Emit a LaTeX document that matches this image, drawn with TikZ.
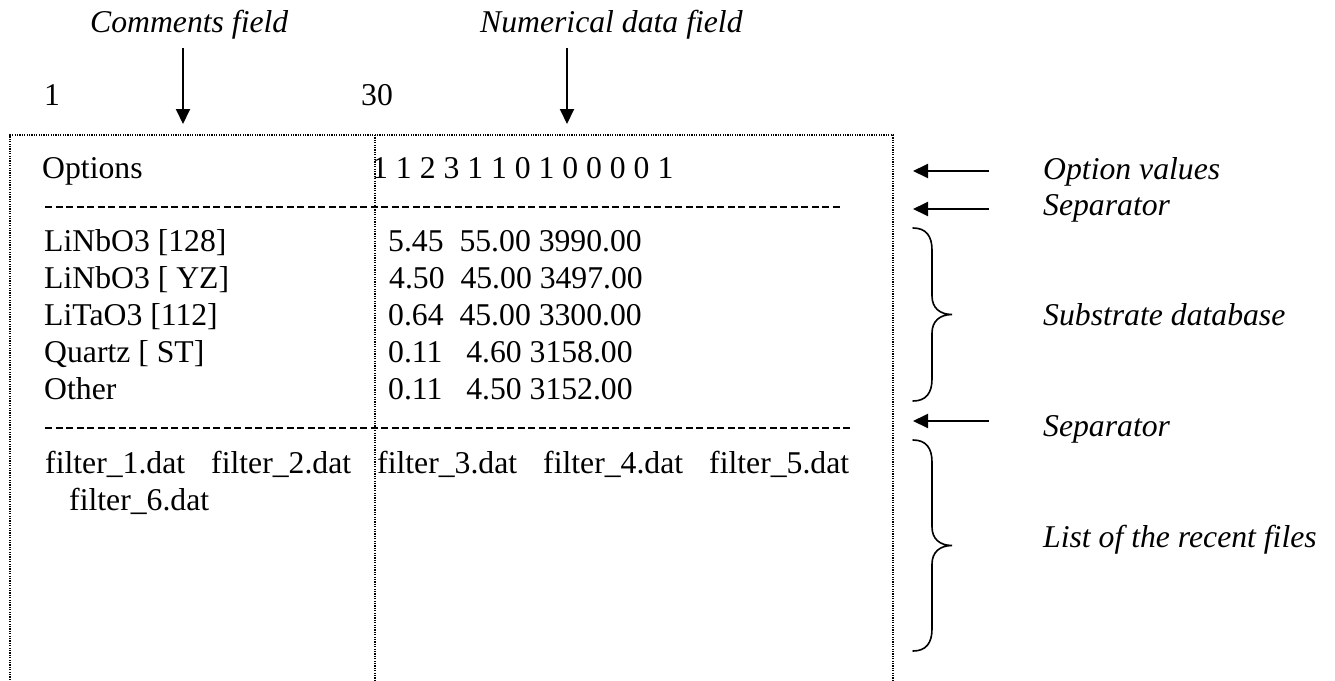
\documentclass[tikz,border=0pt]{standalone}
\usepackage{fontspec}
\setmainfont{Liberation Serif}
\usetikzlibrary{arrows.meta}
\begin{document}
\begin{tikzpicture}[x=1pt,y=-1pt,
  txt/.style={inner sep=0pt, anchor=base west, font=\fontsize{31.7}{38}\selectfont},
  lbl/.style={inner sep=0pt, anchor=base west, font=\fontsize{31.7}{38}\selectfont\itshape},
  frame/.style={line width=1.2pt, dash pattern=on 1.2pt off 1.2pt},
  sepline/.style={line width=1.6pt, dash pattern=on 7pt off 3.5pt},
  pointer/.style={line width=2pt, -{Triangle[length=15pt,width=14pt]}},
  bracket/.style={line width=1.6pt, line cap=round}]
\useasboundingbox (0,0) rectangle (1335,680);

% file frame and column divider
\draw[frame] (10,680) -- (10,135) -- (893,135) -- (893,680);
\draw[frame] (375,135) -- (375,680);

% field headers and column numbers
\node[lbl] (cf) at (90,32) {Comments field};
\node[lbl] (nf) at (480,32) {Numerical data field};
\node[txt] (c1) at (44,105) {1};
\node[txt] (c30) at (361,105) {30};
\coordinate (cfa) at (183,48);
\coordinate (cfb) at (183,124);
\coordinate (nfa) at (567,48);
\coordinate (nfb) at (567,124);
\draw[pointer] (cfa) -- (cfb);
\draw[pointer] (nfa) -- (nfb);

% file contents
\node[txt] (opt) at (42,178) {Options};
\node[txt] (optv) at (372,178) {1 1 2 3 1 1 0 1 0 0 0 0 1};
\coordinate (s1a) at (45,207);
\coordinate (s1b) at (843,207);
\draw[sepline] (s1a) -- (s1b);

\node[txt] (m1) at (44,251.8) {LiNbO3 [128]};
\node[txt] (m2) at (44,288.7) {LiNbO3 [ YZ]};
\node[txt] (m3) at (44,325.6) {LiTaO3 [112]};
\node[txt] (m4) at (44,362.5) {Quartz [ ST]};
\node[txt] (m5) at (44,399.4) {Other};
\node[txt] (v1) at (388,251.8) {5.45~~55.00 3990.00};
\node[txt] (v2) at (389,288.7) {4.50~~45.00 3497.00};
\node[txt] (v3) at (388,325.6) {0.64~~45.00 3300.00};
\node[txt] (v4) at (388,362.5) {0.11~~~4.60 3158.00};
\node[txt] (v5) at (388,399.4) {0.11~~~4.50 3152.00};

\coordinate (s2a) at (45,428);
\coordinate (s2b) at (853,428);
\draw[sepline] (s2a) -- (s2b);

\node[txt] (f1) at (45,473.2) {filter\_1.dat};
\node[txt] (f2) at (211,473.2) {filter\_2.dat};
\node[txt] (f3) at (377,473.2) {filter\_3.dat};
\node[txt] (f4) at (543,473.2) {filter\_4.dat};
\node[txt] (f5) at (709,473.2) {filter\_5.dat};
\node[txt] (f6) at (69,510.1) {filter\_6.dat};

% annotations on the right
\node[lbl] (lov) at (1043,179) {Option values};
\node[lbl] (ls1) at (1043,215) {Separator};
\node[lbl] (lsd) at (1043,325.6) {Substrate database};
\node[lbl] (ls2) at (1043,436.3) {Separator};
\node[lbl] (lrf) at (1043,547) {List of the recent files};

\coordinate (p1a) at (989,171);
\coordinate (p1b) at (913,171);
\coordinate (p2a) at (989,209);
\coordinate (p2b) at (913,209);
\coordinate (p3a) at (989,421);
\coordinate (p3b) at (913,421);
\draw[pointer] (p1a) -- (p1b);
\draw[pointer] (p2a) -- (p2b);
\draw[pointer] (p3a) -- (p3b);

% braces
\draw[bracket] (913,228) .. controls (926,228) and (932,236) .. (932,250)
  -- (932,296) .. controls (932,308) and (940,314.5) .. (952,314.5)
  .. controls (940,314.5) and (932,321) .. (932,333)
  -- (932,379) .. controls (932,393) and (926,401) .. (913,401);
\draw[bracket] (913,440) .. controls (926,440) and (932,448) .. (932,462)
  -- (932,527) .. controls (932,539) and (940,545.5) .. (952,545.5)
  .. controls (940,545.5) and (932,552) .. (932,564)
  -- (932,629) .. controls (932,643) and (926,651) .. (913,651);
\end{tikzpicture}
\end{document}
